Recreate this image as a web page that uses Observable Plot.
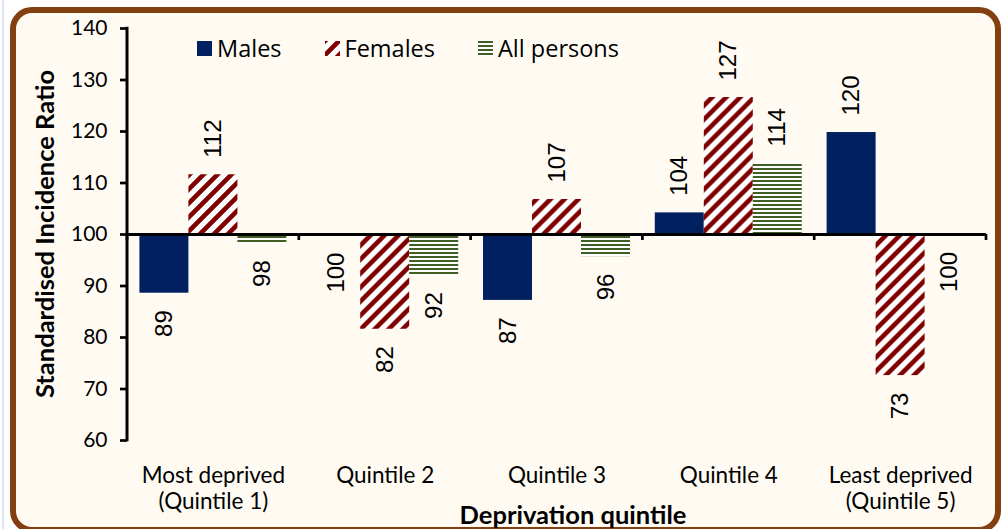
<!DOCTYPE html>
<html>
<head>
<meta charset="utf-8">
<script src="https://cdn.jsdelivr.net/npm/d3@7"></script>
<script src="https://cdn.jsdelivr.net/npm/@observablehq/plot@0.6"></script>
<style>
html, body { margin: 0; padding: 0; background: #fff; }
#wrap { position: relative; width: 1003px; height: 529px; overflow: hidden; background: #fff; }
#edge { position: absolute; left: 2px; top: 0; width: 2px; height: 529px; background: #dbe5f1; }
#frame { position: absolute; left: 10px; top: 7px; width: 991px; height: 526px; box-sizing: border-box;
  border: 6px solid #843f10; border-radius: 22px; background: #fffbf3; }
#chart { position: absolute; left: 0; top: 0; }
#legend { position: absolute; left: 197px; top: 34px; display: flex; align-items: center; gap: 43px;
  font-family: "Open Sans", sans-serif; font-size: 23.5px; color: #000; line-height: 28px; }
.item { display: flex; align-items: center; gap: 5px; }
.item svg { display: block; }
#ytitle { position: absolute; left: 44px; top: 234px; transform: translate(-50%, -50%) rotate(-90deg);
  font: bold 25.5px Lato, sans-serif; line-height: 26px; white-space: nowrap; color: #000; }
#xtitle { position: absolute; left: 573px; top: 501px; transform: translateX(-50%);
  font: bold 25.5px Lato, sans-serif; line-height: 26px; white-space: nowrap; color: #000; }
</style>
</head>
<body>
<div id="wrap">
  <svg width="0" height="0" style="position:absolute">
    <defs>
      <pattern id="pat-females" patternUnits="userSpaceOnUse" width="14" height="14">
        <rect width="14" height="14" fill="#fff"/>
        <path d="M-3.5,3.5 L3.5,-3.5 M0,14 L14,0 M10.5,17.5 L17.5,10.5" stroke="#800000" stroke-width="4.6"/>
      </pattern>
      <pattern id="pat-all" patternUnits="userSpaceOnUse" width="4" height="4">
        <rect width="4" height="4" fill="#fff"/>
        <rect width="4" height="2" fill="#3f5f25"/>
      </pattern>
    </defs>
  </svg>
  <div id="edge"></div>
  <div id="frame"></div>
  <div id="chart"></div>
  <div id="legend"></div>
  <div id="ytitle">Standardised Incidence Ratio</div>
  <div id="xtitle">Deprivation quintile</div>
</div>
<script>
// ---- data ----
const categories = ["Most deprived\n(Quintile 1)", "Quintile 2", "Quintile 3", "Quintile 4", "Least deprived\n(Quintile 5)"];
const seriesNames = ["Males", "Females", "All persons"];
const malesSIR = [88.6, 99.8, 87.2, 104.2, 119.8];
const femalesSIR = [111.6, 81.6, 106.8, 126.6, 72.6];
const allPersonsSIR = [98.3, 92.1, 95.7, 113.8, 99.9];
const yTicks = [60, 70, 80, 90, 100, 110, 120, 130, 140];
const baseline = 100;
const seriesFills = ["#002060", "url(#pat-females)", "url(#pat-all)"];

const seriesValues = [malesSIR, femalesSIR, allPersonsSIR];
const rows = [];
categories.forEach((c, i) => {
  seriesValues.forEach((arr, j) => rows.push({category: c, series: seriesNames[j], value: arr[i]}));
});
const fmt = d3.format(".0f");
const labelFont = '"Liberation Sans Narrow", "Liberation Sans", Arial, sans-serif';

const chart = Plot.plot({
  width: 1003,
  height: 529,
  marginLeft: 127,
  marginRight: 17,
  marginTop: 28,
  marginBottom: 89,
  style: {background: "transparent", fontFamily: "Lato, sans-serif", fontSize: "21px", color: "#000", overflow: "visible"},
  fx: {domain: categories, padding: 0, round: false},
  x: {domain: seriesNames, paddingInner: 0, paddingOuter: 0.253, round: false, axis: null},
  y: {domain: [yTicks[0], yTicks[yTicks.length - 1]]},
  color: {type: "ordinal", domain: seriesNames, range: seriesFills},
  marks: [
    Plot.barY(rows, {fx: "category", x: "series", y1: baseline, y2: "value", fill: "series"}),
    Plot.ruleY([baseline], {stroke: "#000", strokeWidth: 3}),
    Plot.text(rows, {
      filter: d => d.value >= baseline,
      fx: "category", x: "series", y: "value", text: d => fmt(d.value),
      rotate: -90, textAnchor: "start", lineAnchor: "middle", dy: -17,
      fontFamily: labelFont, fontSize: 24, fill: "#000"
    }),
    Plot.text(rows, {
      filter: d => d.value < baseline,
      fx: "category", x: "series", y: "value", text: d => fmt(d.value),
      rotate: -90, textAnchor: "end", lineAnchor: "middle", dy: 17,
      fontFamily: labelFont, fontSize: 24, fill: "#000"
    }),
    Plot.axisY({ticks: yTicks, tickSize: 7, tickPadding: 13, strokeWidth: 2.7, label: null, tickFormat: d => d}),
    Plot.axisFx({anchor: "bottom", tickSize: 0, tickPadding: 25, label: null, lineHeight: 1.12, fontSize: 22.5})
  ]
});
document.getElementById("chart").appendChild(chart);

// axis line and category boundary ticks, positioned via Plot's own scales
const svg = d3.select(chart.tagName.toLowerCase() === "svg" ? chart : chart.querySelector("svg"));
const ys = chart.scale("y"), fxs = chart.scale("fx");
const y0 = ys.apply(baseline);
const edges = categories.map(c => fxs.apply(c)).concat([fxs.apply(categories[categories.length - 1]) + fxs.bandwidth]);
const g = svg.append("g").attr("stroke", "#000");
g.selectAll("line.edge").data(edges).join("line")
  .attr("x1", d => d).attr("x2", d => d)
  .attr("y1", y0).attr("y2", y0 + 6).attr("stroke-width", 2.7);
g.append("line")
  .attr("x1", edges[0]).attr("x2", edges[0])
  .attr("y1", ys.apply(yTicks[yTicks.length - 1]) - 1.3).attr("y2", ys.apply(yTicks[0]) + 1.3)
  .attr("stroke-width", 3);

// legend
const legend = d3.select("#legend");
seriesNames.forEach((name, i) => {
  const item = legend.append("div").attr("class", "item");
  const sw = item.append("svg").attr("width", 15).attr("height", 15);
  sw.append("rect").attr("width", 15).attr("height", 15).attr("fill", seriesFills[i]);
  item.append("span").text(name);
});
</script>
</body>
</html>
